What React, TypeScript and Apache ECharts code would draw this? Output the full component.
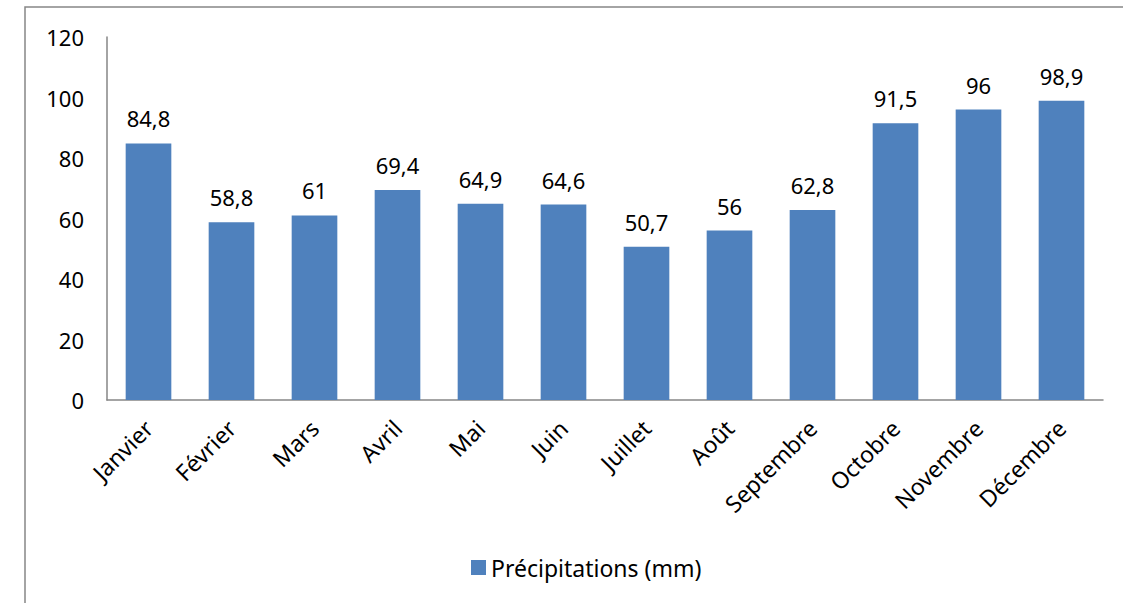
import React, { useEffect, useRef } from "react";
import * as echarts from "echarts";

const categories = ["Janvier", "Février", "Mars", "Avril", "Mai", "Juin", "Juillet", "Août", "Septembre", "Octobre", "Novembre", "Décembre"];
const precipitations = [84.8, 58.8, 61, 69.4, 64.9, 64.6, 50.7, 56, 62.8, 91.5, 96, 98.9];
const seriesName = "Précipitations (mm)";

const FONT = "Noto Sans";

export default function App() {
  const ref = useRef<HTMLDivElement>(null);
  useEffect(() => {
    document.body.style.margin = "0";
    const chart = echarts.init(ref.current!, null, { renderer: "svg" });
    chart.setOption({
      animation: false,
      backgroundColor: "#ffffff",
      graphic: [
        {
          type: "rect",
          shape: { x: 25, y: 7, width: 1300, height: 800 },
          style: { fill: "none", stroke: "#868686", lineWidth: 1.5 },
          silent: true,
        },
      ],
      legend: {
        data: [seriesName],
        left: 466,
        top: 551,
        icon: "rect",
        itemWidth: 15,
        itemHeight: 15,
        itemGap: 8,
        textStyle: { fontFamily: FONT, fontSize: 23, color: "#000" },
      },
      grid: { left: 107, right: 20, top: 37, bottom: 203, containLabel: false },
      xAxis: {
        type: "category",
        data: categories,
        axisLine: { lineStyle: { color: "#868686", width: 1.5 } },
        axisTick: { show: false },
        axisLabel: {
          rotate: 45,
          margin: 24,
          interval: 0,
          fontFamily: FONT,
          fontSize: 23,
          color: "#000",
        },
      },
      yAxis: {
        type: "value",
        min: 0,
        max: 120,
        interval: 20,
        axisLine: { show: true, lineStyle: { color: "#868686", width: 1.5 } },
        axisTick: { show: false },
        splitLine: { show: false },
        axisLabel: { margin: 23, fontFamily: FONT, fontSize: 22, color: "#000" },
      },
      series: [
        {
          name: seriesName,
          type: "bar",
          data: precipitations,
          barWidth: "55%",
          itemStyle: { color: "#4F81BD" },
          label: {
            show: true,
            position: "top",
            distance: 14,
            fontFamily: FONT,
            fontSize: 22,
            color: "#000",
            formatter: (p: any) => String(p.value).replace(".", ","),
          },
        },
      ],
    });
    return () => chart.dispose();
  }, []);
  return <div ref={ref} style={{ width: 1123, height: 603 }} />;
}
